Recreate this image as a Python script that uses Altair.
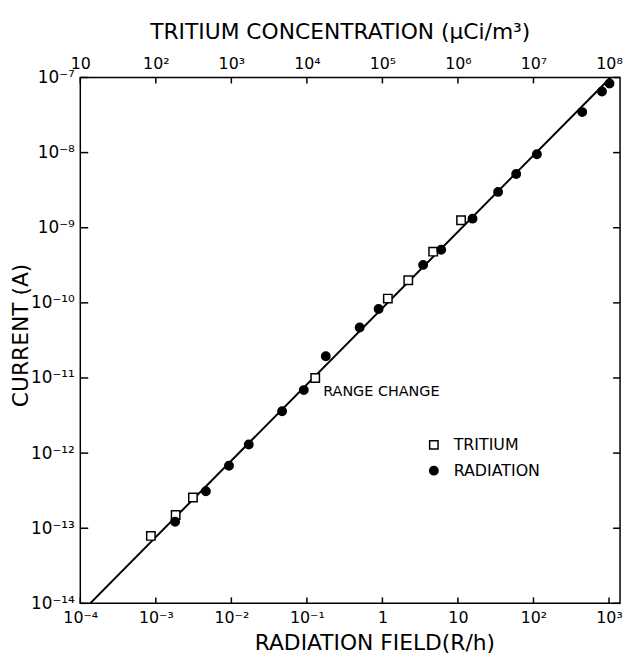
import json
import altair as alt
import pandas as pd

# ---- data ----
tri_R = [8.6e-4, 1.83e-3, 3.1e-3, 0.129, 1.18, 2.2, 4.7, 11.0]
tri_I = [7.9e-14, 1.5e-13, 2.57e-13, 1.0e-11, 1.14e-10, 2.0e-10, 4.8e-10, 1.26e-9]

rad_R = [1.8e-3, 4.6e-3, 9.3e-3, 1.7e-2, 4.7e-2, 9.1e-2, 0.178, 0.5, 0.89,
         3.46, 6.0, 15.6, 34, 59, 111, 442, 807, 1016]
rad_I = [1.22e-13, 3.1e-13, 6.8e-13, 1.3e-12, 3.6e-12, 6.9e-12, 1.95e-11, 4.7e-11, 8.3e-11,
         3.2e-10, 5.1e-10, 1.32e-9, 3.0e-9, 5.2e-9, 9.5e-9, 3.46e-8, 6.5e-8, 8.3e-8]

fit_R = [1.35e-4, 1.05e3]
fit_I = [1e-14, 1e-7]

ann_R = [0.129]
ann_I = [1e-11]
ann_text = ["RANGE CHANGE"]

x_ticks = [1e-4, 1e-3, 1e-2, 1e-1, 1, 10, 1e2, 1e3]
y_ticks = [1e-14, 1e-13, 1e-12, 1e-11, 1e-10, 1e-9, 1e-8, 1e-7]
bottom_labels = ["10⁻⁴", "10⁻³", "10⁻²", "10⁻¹", "1", "10", "10²", "10³"]
top_labels = ["10", "10²", "10³", "10⁴", "10⁵", "10⁶", "10⁷", "10⁸"]
left_labels = ["10⁻¹⁴", "10⁻¹³", "10⁻¹²", "10⁻¹¹", "10⁻¹⁰", "10⁻⁹", "10⁻⁸", "10⁻⁷"]

series_names = ["TRITIUM", "RADIATION"]

# ---- tables ----
pts = pd.DataFrame({
    "R": tri_R + rad_R,
    "I": tri_I + rad_I,
    "series": [series_names[0]] * len(tri_R) + [series_names[1]] * len(rad_R),
})
fit = pd.DataFrame({"R": fit_R, "I": fit_I})
ann = pd.DataFrame({"R": ann_R, "I": ann_I, "t": ann_text})
xt = pd.DataFrame({"v": x_ticks})
yt = pd.DataFrame({"v": y_ticks})

W, H = 545, 531
FONT = "DejaVu Sans"

xscale = alt.Scale(type="log", domain=[1e-4, 1.4e3], nice=False)
yscale = alt.Scale(type="log", domain=[1e-14, 1e-7], nice=False)


def lab_expr(labels, off):
    return json.dumps(labels, ensure_ascii=False) + f"[round(log(datum.value)/LN10)+{off}]"


bottom_axis = alt.Axis(
    values=x_ticks, labelExpr=lab_expr(bottom_labels, 4), ticks=False, domain=False,
    grid=False, labelFlush=False, labelOverlap=False, labelPadding=6,
    labelFontSize=16, labelFont=FONT, labelColor="black",
    title="RADIATION FIELD(R/h)", titleFont=FONT, titleFontSize=22, titleFontWeight="normal",
    titleColor="black", titleX=297, titleY=40, titleBaseline="middle",
)
top_axis = alt.Axis(
    orient="top", values=x_ticks, labelExpr=lab_expr(top_labels, 4), ticks=False,
    domain=False, grid=False, labelFlush=False, labelOverlap=False, labelPadding=6,
    labelFontSize=16, labelFont=FONT, labelColor="black",
    title="TRITIUM CONCENTRATION (µCi/m³)", titleFont=FONT, titleFontSize=22,
    titleFontWeight="normal", titleColor="black", titleX=262, titleY=-46,
    titleBaseline="middle",
)
left_axis = alt.Axis(
    values=y_ticks, labelExpr=lab_expr(left_labels, 14), ticks=False, domain=False,
    grid=False, labelFlush=False, labelOverlap=False, labelPadding=6,
    labelFontSize=17, labelFont=FONT, labelColor="black",
    title="CURRENT (A)", titleFont=FONT, titleFontSize=22, titleFontWeight="normal",
    titleColor="black", titleX=-60, titleY=260, titleBaseline="middle", titleAngle=-90,
)

line = alt.Chart(fit).mark_line(color="black", strokeWidth=2, clip=True).encode(
    x=alt.X("R:Q", scale=xscale, axis=bottom_axis),
    y=alt.Y("I:Q", scale=yscale, axis=left_axis),
)

leg = alt.Legend(title=None, orient="none", legendX=349, legendY=363)
points = alt.Chart(pts).mark_point(filled=True, strokeWidth=1.5, opacity=1, size=72).encode(
    x=alt.X("R:Q", scale=xscale, axis=None),
    y=alt.Y("I:Q", scale=yscale, axis=None),
    shape=alt.Shape("series:N", scale=alt.Scale(domain=series_names, range=["square", "circle"]),
                    legend=leg),
    fill=alt.Fill("series:N", scale=alt.Scale(domain=series_names, range=["white", "black"]),
                  legend=leg),
    stroke=alt.Stroke("series:N", scale=alt.Scale(domain=series_names, range=["black", "black"]),
                      legend=leg),
)

annot = alt.Chart(ann).mark_text(align="left", baseline="middle", dx=8, dy=14,
                                 font=FONT, fontSize=14.5, color="black").encode(
    x=alt.X("R:Q", scale=xscale, axis=None),
    y=alt.Y("I:Q", scale=yscale, axis=None),
    text="t:N",
)

tick_b = alt.Chart(xt).mark_rule(color="black", strokeWidth=1.5).encode(
    x=alt.X("v:Q", scale=xscale, axis=None), y=alt.value(H), y2=alt.value(H - 6))
tick_t = alt.Chart(xt).mark_rule(color="black", strokeWidth=1.5).encode(
    x=alt.X("v:Q", scale=xscale, axis=top_axis), y=alt.value(0), y2=alt.value(6))
tick_l = alt.Chart(yt).mark_rule(color="black", strokeWidth=1.5).encode(
    y=alt.Y("v:Q", scale=yscale, axis=None), x=alt.value(0), x2=alt.value(8))
tick_r = alt.Chart(yt).mark_rule(color="black", strokeWidth=1.5).encode(
    y=alt.Y("v:Q", scale=yscale, axis=None), x=alt.value(W), x2=alt.value(W - 7))

chart = alt.layer(line, tick_b, tick_t, tick_l, tick_r, points, annot).resolve_axis(
    x="independent", y="independent"
).properties(
    width=W, height=H,
    autosize=alt.AutoSizeParams(type="none"),
    padding={"left": 73, "top": 67, "right": 4, "bottom": 50},
    background="white",
).configure_view(
    stroke="black", strokeWidth=1.5
).configure_legend(
    labelFont=FONT, labelFontSize=16, labelColor="black", symbolSize=72,
    symbolStrokeWidth=1.5, labelOffset=12, rowPadding=10,
    padding=0,
)

chart.save("out.html", embed_options={"renderer": "svg", "actions": False})
